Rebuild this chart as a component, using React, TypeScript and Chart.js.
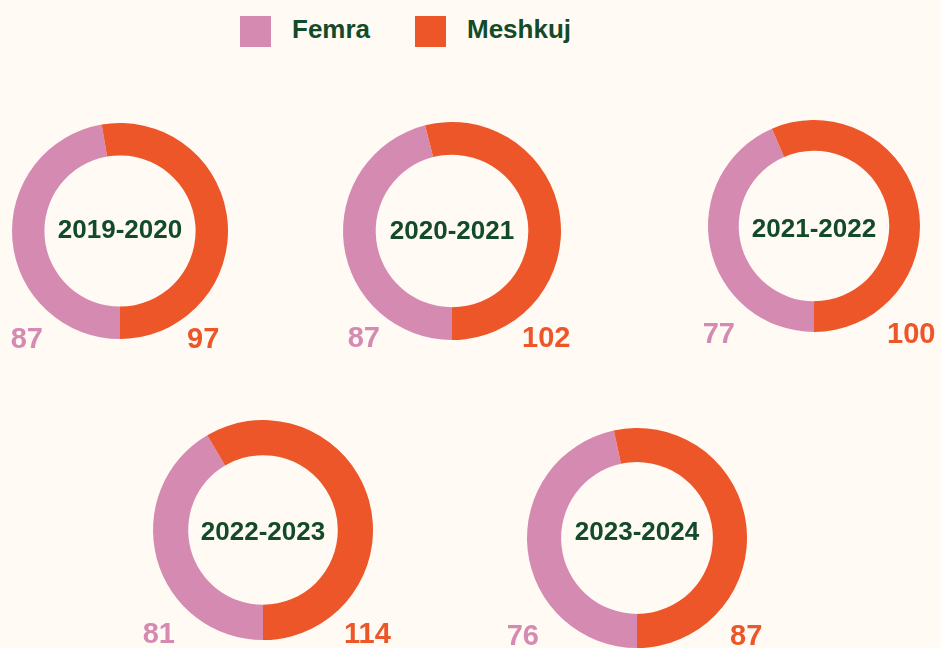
import React, { useEffect, useRef } from "react";
import { Chart, registerables } from "chart.js";

Chart.register(...registerables);

// ---- data ----
const years = ["2019-2020", "2020-2021", "2021-2022", "2022-2023", "2023-2024"];
const femra = [87, 87, 77, 81, 76];
const meshkuj = [97, 102, 100, 114, 87];
const seriesLabels = ["Femra", "Meshkuj"];

// ---- style ----
const PINK = "#d58bb1";
const ORANGE = "#ec5629";
const GREEN = "#134b2a";
const BG = "#fffaf3";
const FONT = "'Liberation Sans', Arial, Helvetica, sans-serif";

// ---- layout (positions only) ----
const layout = [
  { cx: 120, cy: 231, r: 108, cut: "70%", textDy: 7, pinkRight: -77, orangeLeft: 67, base: 117 },
  { cx: 452, cy: 231, r: 109, cut: "70%", textDy: 8, pinkRight: -72, orangeLeft: 70, base: 116 },
  { cx: 814, cy: 226, r: 106, cut: "71%", textDy: 11, pinkRight: -79, orangeLeft: 73, base: 117 },
  { cx: 263, cy: 530, r: 110, cut: "68%", textDy: 10, pinkRight: -88, orangeLeft: 81, base: 113 },
  { cx: 637, cy: 538, r: 110, cut: "69%", textDy: 2, pinkRight: -98, orangeLeft: 93, base: 107 },
];
const HALF_W = 160;
const EXTRA_BOTTOM = 30;

function Donut({ index }: { index: number }) {
  const ref = useRef<HTMLCanvasElement | null>(null);
  const L = layout[index];
  const w = HALF_W * 2;
  const h = L.r * 2 + EXTRA_BOTTOM;

  useEffect(() => {
    if (!ref.current) return;
    const labelPlugin = {
      id: "donutLabels" + index,
      afterDraw(chart: any) {
        const ctx = chart.ctx;
        const meta = chart.getDatasetMeta(0);
        const arc = meta.data[0];
        const x = arc.x;
        const y = arc.y;
        ctx.save();
        ctx.fillStyle = GREEN;
        ctx.font = `bold 26px ${FONT}`;
        ctx.textAlign = "center";
        ctx.textBaseline = "alphabetic";
        ctx.fillText(years[index], x, y + L.textDy);
        const vals = chart.data.datasets[0].data;
        ctx.font = `bold 29px ${FONT}`;
        ctx.fillStyle = PINK;
        ctx.textAlign = "right";
        ctx.fillText(String(vals[0]), x + L.pinkRight, y + L.base);
        ctx.fillStyle = ORANGE;
        ctx.textAlign = "left";
        ctx.fillText(String(vals[1]), x + L.orangeLeft, y + L.base);
        ctx.restore();
      },
    };
    const chart = new Chart(ref.current, {
      type: "doughnut",
      data: {
        labels: seriesLabels,
        datasets: [
          {
            data: [femra[index], meshkuj[index]],
            backgroundColor: [PINK, ORANGE],
            borderWidth: 0,
            hoverOffset: 0,
            offset: 0,
          },
        ],
      },
      options: {
        responsive: false,
        animation: false,
        devicePixelRatio: 1,
        rotation: 180,
        cutout: L.cut,
        layout: {
          padding: {
            left: HALF_W - L.r,
            right: HALF_W - L.r,
            top: 0,
            bottom: EXTRA_BOTTOM,
          },
        },
        plugins: {
          legend: { display: false },
          tooltip: { enabled: false },
        },
      },
      plugins: [labelPlugin],
    });
    return () => chart.destroy();
  }, [index]);

  return (
    <canvas
      ref={ref}
      width={w}
      height={h}
      style={{
        position: "absolute",
        left: L.cx - HALF_W,
        top: L.cy - L.r,
        width: w,
        height: h,
      }}
    />
  );
}

export default function App() {
  useEffect(() => {
    document.body.style.margin = "0";
    document.body.style.background = BG;
    document.body.style.overflow = "hidden";
  }, []);

  const legendText: React.CSSProperties = {
    position: "absolute",
    top: 14,
    fontFamily: FONT,
    fontWeight: "bold",
    fontSize: 26,
    lineHeight: "31px",
    color: GREEN,
    whiteSpace: "nowrap",
  };
  const sq = (left: number, color: string): React.CSSProperties => ({
    position: "absolute",
    left,
    top: 16,
    width: 31,
    height: 31,
    background: color,
  });

  return (
    <div
      style={{
        position: "relative",
        width: 941,
        height: 648,
        overflow: "hidden",
        background: BG,
      }}
    >
      <div style={sq(240, PINK)} />
      <div style={{ ...legendText, left: 292 }}>{seriesLabels[0]}</div>
      <div style={sq(415, ORANGE)} />
      <div style={{ ...legendText, left: 467 }}>{seriesLabels[1]}</div>
      {years.map((_, i) => (
        <Donut key={i} index={i} />
      ))}
    </div>
  );
}
